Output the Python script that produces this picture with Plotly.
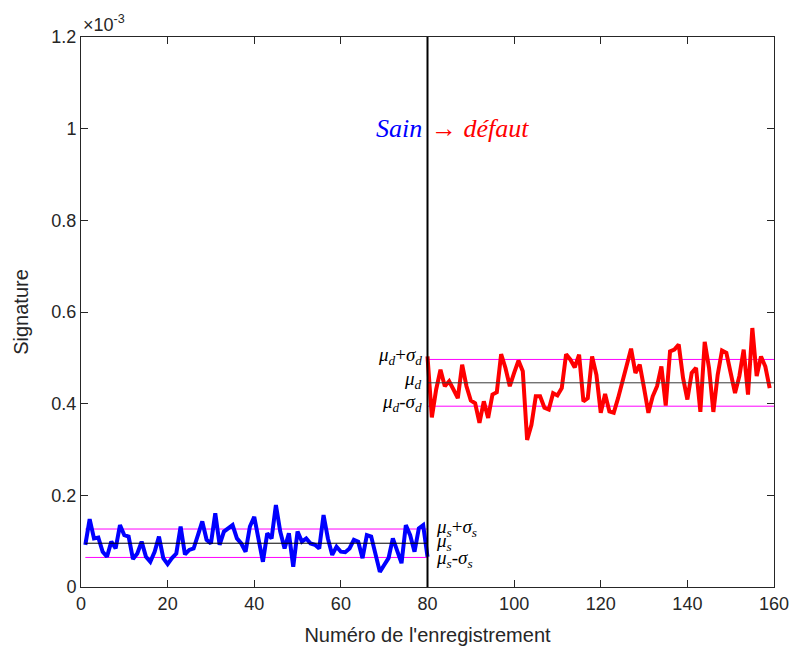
import plotly.graph_objects as go

# Values in units of 1e-3
x_sain = list(range(1, 81))
y_sain = [0.092, 0.148, 0.106, 0.108, 0.077, 0.066, 0.099, 0.084, 0.135, 0.113,
          0.110, 0.061, 0.073, 0.099, 0.066, 0.055, 0.077, 0.110, 0.063, 0.050,
          0.063, 0.073, 0.132, 0.071, 0.081, 0.084, 0.113, 0.143, 0.103, 0.095,
          0.161, 0.092, 0.121, 0.128, 0.135, 0.106, 0.095, 0.077, 0.132, 0.153,
          0.106, 0.055, 0.117, 0.106, 0.179, 0.121, 0.084, 0.117, 0.044, 0.121,
          0.099, 0.106, 0.095, 0.092, 0.084, 0.157, 0.106, 0.070, 0.088, 0.077,
          0.076, 0.084, 0.103, 0.099, 0.063, 0.113, 0.110, 0.070, 0.033, 0.048,
          0.063, 0.106, 0.077, 0.052, 0.135, 0.113, 0.077, 0.128, 0.135, 0.066]

x_defaut = list(range(80, 160))
y_defaut = [0.503, 0.370, 0.431, 0.474, 0.438, 0.449, 0.431, 0.412, 0.485, 0.438,
            0.407, 0.401, 0.358, 0.405, 0.369, 0.420, 0.425, 0.508, 0.478, 0.438,
            0.467, 0.494, 0.471, 0.321, 0.354, 0.416, 0.416, 0.391, 0.387, 0.423,
            0.418, 0.434, 0.508, 0.496, 0.479, 0.507, 0.405, 0.412, 0.503, 0.463,
            0.380, 0.421, 0.383, 0.380, 0.412, 0.449, 0.485, 0.520, 0.467, 0.485,
            0.434, 0.380, 0.416, 0.438, 0.481, 0.396, 0.514, 0.518, 0.529, 0.456,
            0.409, 0.467, 0.478, 0.382, 0.535, 0.478, 0.382, 0.463, 0.516, 0.511,
            0.467, 0.423, 0.460, 0.518, 0.420, 0.565, 0.460, 0.503, 0.481, 0.434]

mu_s, sig_s = 0.0955, 0.031
mu_d, sig_d = 0.4455, 0.051
x_range_s = [1, 80]
x_range_d = [80, 160]

x_ticks = [0, 20, 40, 60, 80, 100, 120, 140, 160]
y_ticks = [0, 0.2, 0.4, 0.6, 0.8, 1.0, 1.2]
y_tick_text = ["0", "0.2", "0.4", "0.6", "0.8", "1", "1.2"]

fig = go.Figure()

def hline(xr, y, color):
    fig.add_trace(go.Scatter(x=xr, y=[y, y], mode="lines",
                             line=dict(color=color, width=1), hoverinfo="skip"))

hline(x_range_s, mu_s + sig_s, "#FF00FF")
hline(x_range_s, mu_s - sig_s, "#FF00FF")
hline(x_range_d, mu_d + sig_d, "#FF00FF")
hline(x_range_d, mu_d - sig_d, "#FF00FF")

fig.add_trace(go.Scatter(x=x_sain, y=y_sain, mode="lines",
                         line=dict(color="#0000FF", width=4)))
fig.add_trace(go.Scatter(x=x_defaut, y=y_defaut, mode="lines",
                         line=dict(color="#FF0000", width=4)))

hline(x_range_s, mu_s, "#000000")
hline(x_range_d, mu_d, "#3a3a3a")

fig.add_shape(type="line", xref="x", yref="y", x0=80, x1=80, y0=0, y1=1.2,
              line=dict(color="black", width=2))

serif = "Liberation Serif"
ann = []
ann.append(dict(x=79.2, y=1.0, xref="x", yref="y", xanchor="right", yanchor="middle",
                text="<i>Sain</i>", showarrow=False,
                font=dict(family=serif, size=26, color="#0000FF")))
ann.append(dict(x=80.3, y=1.0, xref="x", yref="y", xanchor="left", yanchor="middle",
                text="→ <i>défaut</i>", showarrow=False,
                font=dict(family=serif, size=26, color="#FF0000")))

lab_font = dict(family=serif, size=19, color="black")
for yy, t in [(mu_d + sig_d + 0.007, "<i>μ<sub>d</sub></i>+<i>σ<sub>d</sub></i>"),
              (mu_d + 0.007, "<i>μ<sub>d</sub></i>"),
              (mu_d - sig_d + 0.007, "<i>μ<sub>d</sub></i>-<i>σ<sub>d</sub></i>")]:
    ann.append(dict(x=79.2, y=yy, xref="x", yref="y", xanchor="right", yanchor="middle",
                    text=t, showarrow=False, font=lab_font))
for yy, t in [(0.128, "<i>μ<sub>s</sub></i>+<i>σ<sub>s</sub></i>"),
              (0.098, "<i>μ<sub>s</sub></i>"),
              (0.062, "<i>μ<sub>s</sub></i>-<i>σ<sub>s</sub></i>")]:
    ann.append(dict(x=81.5, y=yy, xref="x", yref="y", xanchor="left", yanchor="middle",
                    text=t, showarrow=False, font=lab_font))

ann.append(dict(x=0, y=1.2, xref="x", yref="y", xanchor="left", yanchor="bottom",
                yshift=0, text="×10<sup>-3</sup>", showarrow=False,
                font=dict(family="Liberation Sans", size=18, color="#262626")))

axis_common = dict(showline=True, linecolor="#262626", linewidth=1, mirror="ticks",
                   ticks="inside", ticklen=7, tickcolor="#262626", showgrid=False,
                   zeroline=False, automargin=False,
                   tickfont=dict(family="Liberation Sans", size=18, color="#262626"))

fig.update_layout(
    width=795, height=655,
    margin=dict(l=81, r=21, t=37, b=68, autoexpand=False),
    paper_bgcolor="white", plot_bgcolor="white",
    showlegend=False,
    annotations=ann,
    xaxis=dict(range=[0, 160], tickvals=x_ticks,
               title=dict(text="Numéro de l'enregistrement", standoff=15,
                          font=dict(family="Liberation Sans", size=20, color="#262626")),
               **axis_common),
    yaxis=dict(range=[0, 1.2], tickvals=y_ticks, ticktext=y_tick_text,
               title=dict(text="Signature", standoff=17,
                          font=dict(family="Liberation Sans", size=20, color="#262626")),
               **axis_common),
)

fig.write_html("out.html", config={"displayModeBar": False},
               post_script="document.body.style.margin='0';document.body.style.overflow='hidden';")
